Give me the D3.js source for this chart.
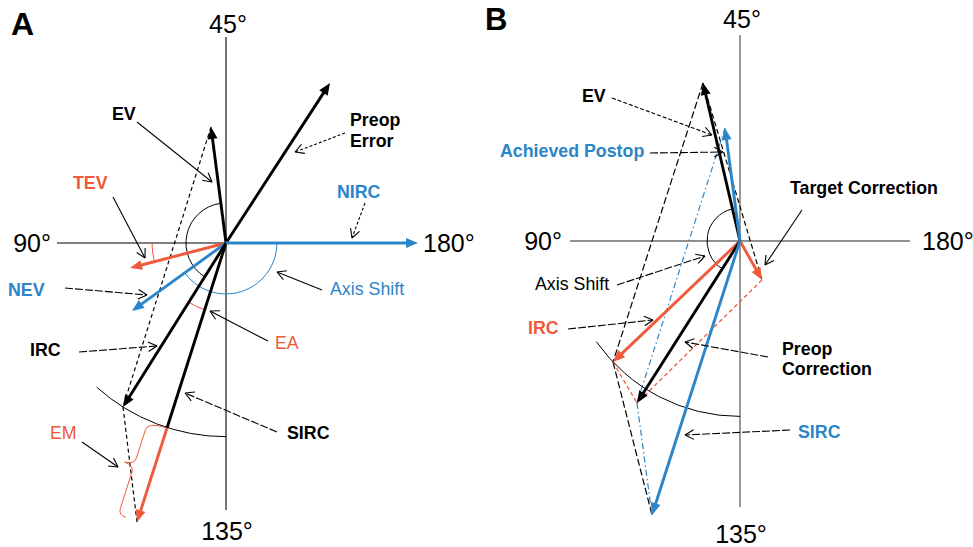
<!DOCTYPE html>
<html>
<head>
<meta charset="utf-8">
<script src="https://cdn.jsdelivr.net/npm/d3@7"></script>
<style>
  body { margin: 0; background: #fff; }
  text { font-family: "Liberation Sans", Arial, sans-serif; }
</style>
</head>
<body>
<div id="chart"></div>
<script>
const red = "#ee5a3b";
const blue = "#2b85c8";

// panel A vectors, in diagram units (x right, y up, origin at the axes crossing)
const namesA = ["Preop Error", "EV", "TEV", "NEV", "IRC", "SIRC", "EM", "NIRC"];
const xA = [104, -15, -96, -94, -103, -59, -89, 192];
const yA = [160, 116, -25, -68, -164, -185, -279, 0];

// panel B vectors
const namesB = ["EV", "Achieved Postop", "Target Correction", "IRC", "Preop Correction", "SIRC"];
const xB = [-37, -15, 22, -127, -103, -88];
const yB = [158, 113, -39, -121, -162, -274];

// axis labels: up, left, down, right
const degLabels = ["45°", "90°", "135°", "180°"];

const width = 973, height = 547;
const svg = d3.select("#chart").append("svg")
  .attr("width", width)
  .attr("height", height);

function makePanel(cx, cy, names, xs, ys) {
  const x = d3.scaleLinear().domain([-200, 200]).range([cx - 200, cx + 200]);
  const y = d3.scaleLinear().domain([-300, 300]).range([cy + 300, cy - 300]);
  const pt = {};
  names.forEach((n, i) => { pt[n] = [x(xs[i]), y(ys[i])]; });
  return { g: svg.append("g"), x, y, c: [x(0), y(0)], pt };
}

function ang(c, p) { return Math.atan2(p[1] - c[1], p[0] - c[0]); }
function dist(c, p) { return Math.hypot(p[0] - c[0], p[1] - c[1]); }

function line(g, p0, p1, color, w, dash) {
  g.append("line")
    .attr("x1", p0[0]).attr("y1", p0[1])
    .attr("x2", p1[0]).attr("y2", p1[1])
    .attr("stroke", color)
    .attr("stroke-width", w)
    .attr("stroke-dasharray", dash || null);
}

// thick vector with filled head
function vector(g, p0, p1, color) {
  const L = dist(p0, p1), ux = (p1[0] - p0[0]) / L, uy = (p1[1] - p0[1]) / L;
  const hl = 12, hw = 5;
  const b = [p1[0] - ux * hl, p1[1] - uy * hl];
  line(g, p0, [b[0] + ux * 2, b[1] + uy * 2], color, 2.9);
  g.append("path")
    .attr("d", `M${p1[0]},${p1[1]}L${b[0] - uy * hw},${b[1] + ux * hw}L${b[0] + uy * hw},${b[1] - ux * hw}Z`)
    .attr("fill", color);
}

// thin label pointer with open head
function pointer(g, p0, p1, dash) {
  line(g, p0, p1, "#000", 1.1, dash);
  const a = Math.atan2(p0[1] - p1[1], p0[0] - p1[0]);
  [-0.5, 0.5].forEach(d => {
    line(g, p1, [p1[0] + 10 * Math.cos(a + d), p1[1] + 10 * Math.sin(a + d)], "#000", 1.1);
  });
}

function arc(g, c, r, a0, a1, ccw, color, w) {
  const p = d3.path();
  p.moveTo(c[0] + r * Math.cos(a0), c[1] + r * Math.sin(a0));
  p.arc(c[0], c[1], r, a0, a1, ccw);
  g.append("path").attr("d", p.toString())
    .attr("fill", "none").attr("stroke", color).attr("stroke-width", w || 1);
}

function label(g, t, x, y, color, bold, size) {
  g.append("text").attr("x", x).attr("y", y)
    .attr("fill", color)
    .attr("font-size", size || 17.8)
    .attr("font-weight", bold ? "bold" : "normal")
    .text(t);
}

function axisLabels(P, left, right, topY, botY, sideY) {
  const g = P.g;
  g.append("text").attr("x", P.c[0] + 2).attr("y", topY).attr("text-anchor", "middle")
    .attr("font-size", 25).text(degLabels[0]);
  g.append("text").attr("x", left).attr("y", sideY).attr("text-anchor", "end")
    .attr("font-size", 25).text(degLabels[1]);
  g.append("text").attr("x", P.c[0] + 1).attr("y", botY).attr("text-anchor", "middle")
    .attr("font-size", 25).text(degLabels[2]);
  g.append("text").attr("x", right).attr("y", sideY)
    .attr("font-size", 25).text(degLabels[3]);
}

// ---------------- panel A ----------------
const A = makePanel(226, 243, namesA, xA, yA);
{
  const g = A.g, c = A.c, p = A.pt;
  // axes
  line(g, [A.x(0), A.y(206)], [A.x(0), A.y(-267)], "#000", 1.1);
  line(g, [A.x(-169), A.y(0)], c, "#000", 1.1);
  axisLabels(A, 51, 423, 33, 540, 252);
  label(g, "A", 11, 35, "#000", true, 32);

  // construction lines
  line(g, p["EV"], p["IRC"], "#000", 1.2, "4,3");
  line(g, p["IRC"], p["EM"], "#000", 1.2, "4,3");

  // angle arcs
  arc(g, c, 40, ang(c, p["EV"]), ang(c, p["IRC"]), true, "#000");
  arc(g, c, 51, 0, ang(c, p["NEV"]), false, blue);
  arc(g, c, 74, Math.PI, ang(c, p["TEV"]), true, red);
  arc(g, c, 70, ang(c, p["IRC"]), ang(c, p["SIRC"]), true, red);
  arc(g, c, dist(c, p["IRC"]), ang(c, p["IRC"]) + 0.17, Math.PI / 2, true, "#000");

  // EM brace
  {
    const P1 = p["SIRC"], P2 = p["EM"], L = dist(P1, P2);
    const ux = (P2[0] - P1[0]) / L, uy = (P2[1] - P1[1]) / L, nx = -uy, ny = ux;
    const f = (t, s) => `${P1[0] + ux * t + nx * s},${P1[1] + uy * t + ny * s}`;
    const h = L / 2 - 4;
    const d = `M${f(0, 1)}Q${f(0, 20)} ${f(8, 20)}L${f(h - 7, 20)}Q${f(h - 1, 20)} ${f(h, 30)}` +
      `Q${f(h + 1, 20)} ${f(h + 7, 20)}L${f(L - 8, 20)}Q${f(L - 1, 20)} ${f(L - 1, 12)}`;
    g.append("path").attr("d", d).attr("fill", "none").attr("stroke", red).attr("stroke-width", 1);
  }

  // vectors
  vector(g, c, p["Preop Error"], "#000");
  vector(g, c, p["EV"], "#000");
  vector(g, c, p["TEV"], red);
  vector(g, c, p["NEV"], blue);
  vector(g, c, p["IRC"], "#000");
  line(g, c, p["SIRC"], "#000", 2.9);
  vector(g, p["SIRC"], p["EM"], red);
  vector(g, c, p["NIRC"], blue);

  // labels and pointers
  label(g, "EV", 112, 120, "#000", true);
  pointer(g, [137, 122], [212, 182]);
  label(g, "Preop", 350, 126, "#000", true);
  label(g, "Error", 350, 147, "#000", true);
  pointer(g, [345, 133], [295, 152], "3,2");
  label(g, "TEV", 73, 189, red, true);
  pointer(g, [113, 197], [145, 258]);
  label(g, "NIRC", 337, 198, blue, true);
  pointer(g, [365, 203], [352, 238], "3,2");
  label(g, "Axis Shift", 330, 295, blue, false);
  pointer(g, [322, 290], [277, 272]);
  label(g, "NEV", 8, 296, blue, true);
  pointer(g, [65, 288], [147, 295], "8,2");
  label(g, "EA", 275, 349, red, false);
  pointer(g, [268, 341], [210, 311]);
  label(g, "IRC", 30, 356, "#000", true);
  pointer(g, [79, 352], [157, 346], "8,2");
  label(g, "SIRC", 287, 439, "#000", true);
  pointer(g, [277, 432], [185, 393], "8,2");
  label(g, "EM", 50, 439, red, false);
  pointer(g, [82, 442], [118, 467]);
}

// ---------------- panel B ----------------
const B = makePanel(740, 241, namesB, xB, yB);
{
  const g = B.g, c = B.c, p = B.pt;
  line(g, [B.x(0), B.y(206)], [B.x(0), B.y(-266)], "#444", 1.1);
  line(g, [B.x(-170), B.y(0)], [B.x(170), B.y(0)], "#222", 1.1);
  axisLabels(B, 562, 922, 28, 543, 250);
  label(g, "B", 485, 30, "#000", true, 31);

  // construction lines
  line(g, p["EV"], p["IRC"], "#000", 1.2, "7,3");
  line(g, p["IRC"], p["SIRC"], "#000", 1.2, "7,3");
  line(g, p["EV"], p["Target Correction"], "#000", 1.2, "5,3");
  line(g, p["Achieved Postop"], p["Preop Correction"], blue, 1.2, "6,3,1.5,3");
  line(g, p["Preop Correction"], p["SIRC"], blue, 1.2, "6,3,1.5,3");
  line(g, p["Target Correction"], p["Preop Correction"], red, 1.3, "4,3");
  line(g, p["IRC"], p["Preop Correction"], red, 1.3, "4,3");

  // arcs
  arc(g, c, 33, ang(c, p["EV"]), ang(c, p["Preop Correction"]), true, "#000");
  arc(g, c, dist(c, p["IRC"]), ang(c, p["IRC"]) + 0.15, Math.PI / 2, true, "#000");

  // vectors
  vector(g, c, p["EV"], "#000");
  vector(g, c, p["Achieved Postop"], blue);
  vector(g, c, p["Target Correction"], red);
  vector(g, c, p["IRC"], red);
  vector(g, c, p["Preop Correction"], "#000");
  vector(g, c, p["SIRC"], blue);

  // labels and pointers
  label(g, "EV", 582, 102, "#000", true);
  pointer(g, [612, 98], [712, 135], "4,2");
  label(g, "Achieved Postop", 500, 157, blue, true);
  pointer(g, [650, 153], [723, 152], "8,2");
  label(g, "Target Correction", 790, 194, "#000", true);
  pointer(g, [802, 210], [765, 265]);
  label(g, "Axis Shift", 535, 290, "#000", false);
  pointer(g, [617, 285], [705, 256], "8,2");
  label(g, "IRC", 528, 334, red, true);
  pointer(g, [568, 329], [653, 320], "8,2");
  label(g, "Preop", 782, 355, "#000", true);
  label(g, "Correction", 782, 375, "#000", true);
  pointer(g, [768, 357], [685, 342], "8,2");
  label(g, "SIRC", 798, 438, blue, true);
  pointer(g, [790, 430], [685, 435], "8,2");
}
</script>
</body>
</html>
